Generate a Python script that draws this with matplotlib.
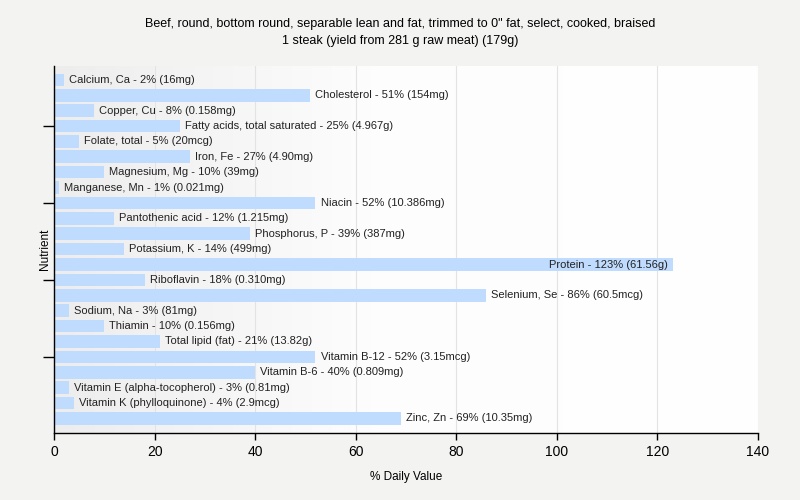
import matplotlib
matplotlib.use("Agg")
import matplotlib.pyplot as plt
import numpy as np
from matplotlib.colors import LinearSegmentedColormap

nutrients = ["Calcium, Ca", "Cholesterol", "Copper, Cu", "Fatty acids, total saturated",
             "Folate, total", "Iron, Fe", "Magnesium, Mg", "Manganese, Mn", "Niacin",
             "Pantothenic acid", "Phosphorus, P", "Potassium, K", "Protein", "Riboflavin",
             "Selenium, Se", "Sodium, Na", "Thiamin", "Total lipid (fat)", "Vitamin B-12",
             "Vitamin B-6", "Vitamin E (alpha-tocopherol)", "Vitamin K (phylloquinone)", "Zinc, Zn"]
values = [2, 51, 8, 25, 5, 27, 10, 1, 52, 12, 39, 14, 123, 18, 86, 3, 10, 21, 52, 40, 3, 4, 69]
amounts = ["16mg", "154mg", "0.158mg", "4.967g", "20mcg", "4.90mg", "39mg", "0.021mg", "10.386mg",
           "1.215mg", "387mg", "499mg", "61.56g", "0.310mg", "60.5mcg", "81mg", "0.156mg", "13.82g",
           "3.15mcg", "0.809mg", "0.81mg", "2.9mcg", "10.35mg"]
title = "Beef, round, bottom round, separable lean and fat, trimmed to 0\" fat, select, cooked, braised\n1 steak (yield from 281 g raw meat) (179g)"

plt.rcParams['font.family'] = ['Liberation Sans', 'DejaVu Sans']
fig = plt.figure(figsize=(8, 5), dpi=100, facecolor='#f3f3f2')
ax = fig.add_axes([0.0675, 0.134, 0.88, 0.734])

# gradient background
grad = np.linspace(0, 1, 256).reshape(1, -1)
cmap = LinearSegmentedColormap.from_list("bg", [(0, "#ededed"), (0.45, "#fdfdfd"), (1, "#ffffff")])
ax.imshow(grad, extent=[0, 1, 0, 1], transform=ax.transAxes, cmap=cmap, aspect='auto', zorder=0)

y = np.arange(len(nutrients))
ax.barh(y, values, height=0.82, color='#bfdbfe', zorder=2)
ax.set_xlim(0, 140)
ax.set_ylim(len(nutrients) - 1 + 0.95, -0.9)

for i, (n, v, a) in enumerate(zip(nutrients, values, amounts)):
    label = f"{n} - {v}% ({a})"
    if v > 100:
        ax.text(v - 1, i, label, va='center', ha='right', fontsize=8, color='#222222', zorder=3)
    else:
        ax.text(v + 1, i, label, va='center', ha='left', fontsize=8, color='#222222', zorder=3)

ax.set_xticks(np.arange(0, 141, 20))
ax.grid(axis='x', color='#e3e3e3', linewidth=0.8, zorder=1)
ax.set_yticks([3, 8, 13, 18])
ax.set_yticklabels([])
ax.tick_params(axis='y', length=8, width=1)
ax.tick_params(axis='x', length=5, width=1, labelsize=10)
for s in ['top', 'right']:
    ax.spines[s].set_visible(False)
ax.spines['left'].set_linewidth(1)
ax.spines['bottom'].set_linewidth(1)

ax.set_xlabel("% Daily Value", fontsize=8.5, labelpad=9)
ax.set_ylabel("Nutrient", fontsize=8.5, labelpad=-9)
fig.suptitle(title, fontsize=9, y=0.964, linespacing=1.55)

fig.savefig("out.png", dpi=100, facecolor=fig.get_facecolor())
